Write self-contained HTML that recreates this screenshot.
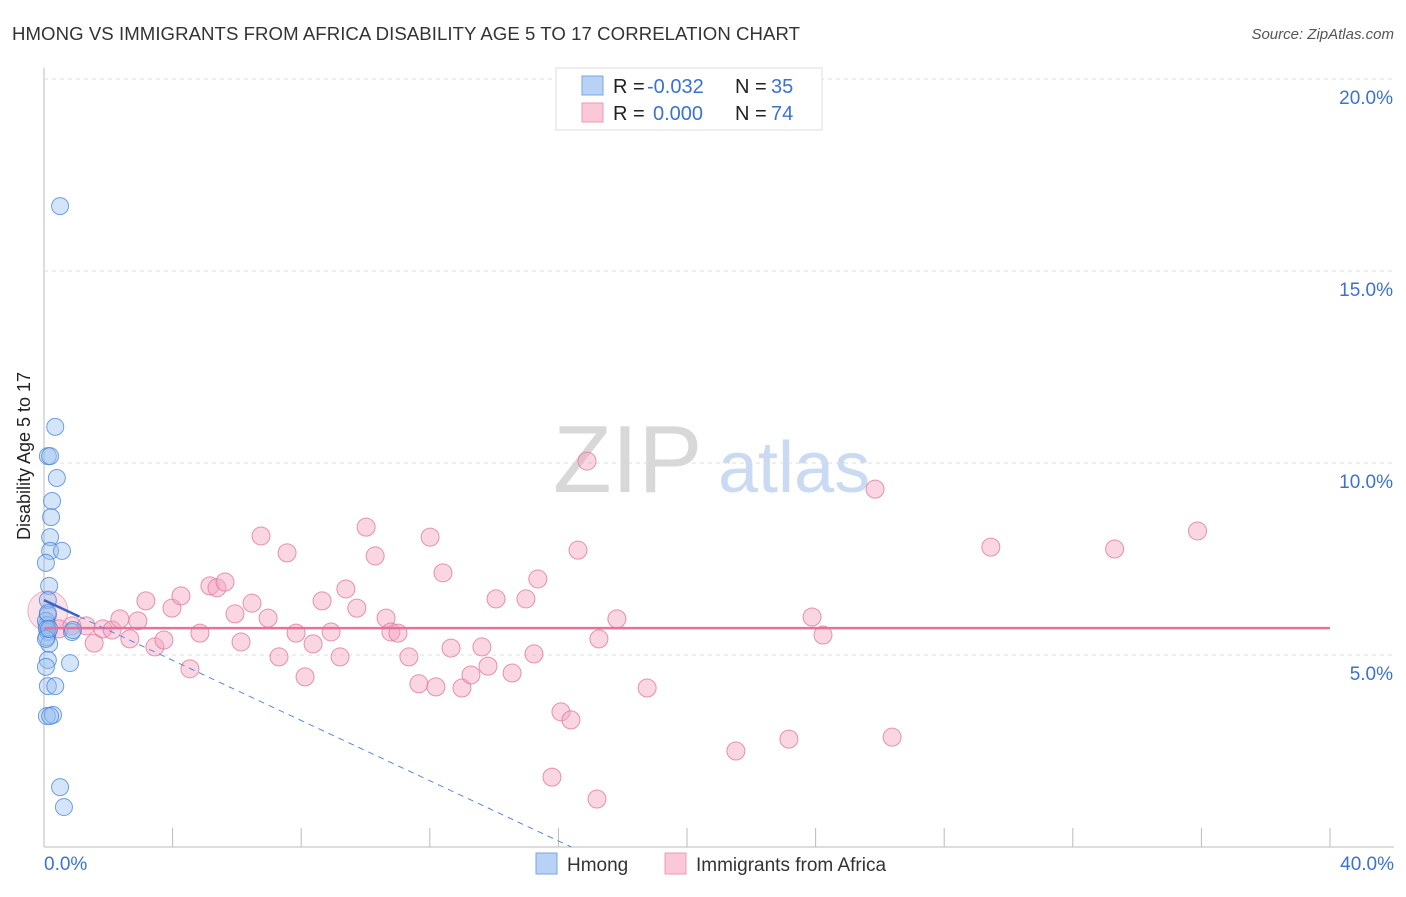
<!DOCTYPE html>
<html><head><meta charset="utf-8"><style>
body{margin:0;background:#fff;font-family:"Liberation Sans",sans-serif;}
svg text{font-family:"Liberation Sans",sans-serif;}
</style></head><body>
<svg id="c" width="1406" height="892">
<text x="12" y="40" font-size="18.6" fill="#333" textLength="788">HMONG VS IMMIGRANTS FROM AFRICA DISABILITY AGE 5 TO 17 CORRELATION CHART</text>
<text x="1394" y="39" font-size="15" fill="#555" font-style="italic" text-anchor="end">Source: ZipAtlas.com</text>
<text x="30" y="456" font-size="18" fill="#222" text-anchor="middle" transform="rotate(-90 30 456)">Disability Age 5 to 17</text>
<text x="553" y="492" font-size="96" fill="#d8d8d8" font-family="Liberation Serif">ZIP</text>
<text x="718" y="492" font-size="72" fill="#c9daf2">atlas</text>
<g id="grid"></g><g id="pts"></g><g id="lines"></g>
<g>
<rect x="556" y="68" width="266" height="62" fill="#fff" stroke="#ddd"/>
<rect x="582" y="76" width="21" height="19" fill="#b8d2f5" stroke="#7aa6e0"/>
<rect x="582" y="103" width="21" height="19" fill="#fac8d6" stroke="#ec9ab4"/>
<text x="613" y="93" font-size="20" fill="#222">R =</text>
<text x="647" y="93" font-size="20" fill="#3b72d0">-0.032</text>
<text x="735" y="93" font-size="20" fill="#222">N =</text>
<text x="771" y="93" font-size="20" fill="#3b72d0">35</text>
<text x="613" y="120" font-size="20" fill="#222">R =</text>
<text x="653" y="120" font-size="20" fill="#3b72d0">0.000</text>
<text x="735" y="120" font-size="20" fill="#222">N =</text>
<text x="771" y="120" font-size="20" fill="#3b72d0">74</text>
</g>
<g>
<rect x="536" y="853" width="21" height="21" fill="#b8d2f5" stroke="#7aa6e0"/>
<text x="567" y="871" font-size="19" fill="#333">Hmong</text>
<rect x="665" y="853" width="21" height="21" fill="#fac8d6" stroke="#ec9ab4"/>
<text x="696" y="871" font-size="19" fill="#333">Immigrants from Africa</text>
</g>
</svg>
<script>
const yTicks=[5,10,15,20];
const xTickLabels=["0.0%","40.0%"];
const hmongX=[0.5,0.35,0.12,0.19,0.4,0.25,0.22,0.19,0.19,0.56,0.06,0.16,0.12,0.12,0.09,0.12,0.09,0.16,0.12,0.06,0.81,0.12,0.35,0.09,0.28,0.19,0.5,0.62,0.87,0.9,0.06,0.09,0.12,0.06,0.16];
const hmongY=[16.69,10.94,10.18,10.18,9.61,9.01,8.59,8.07,7.71,7.71,7.40,6.80,6.43,6.04,5.78,5.60,5.47,5.29,4.87,4.69,4.79,4.19,4.19,3.41,3.44,3.41,1.56,1.04,5.60,5.65,5.89,5.68,6.09,5.42,5.68];
const afrX=[0.12,0.47,0.87,1.31,1.56,1.83,2.12,2.36,2.67,2.92,3.17,3.45,3.73,3.98,4.26,4.54,4.85,5.16,5.38,5.63,5.94,6.13,6.47,6.75,6.97,7.31,7.56,7.84,8.12,8.37,8.65,8.93,9.21,9.39,9.73,10.02,10.3,10.64,10.79,11.01,11.35,11.66,12.01,12.19,12.41,12.66,13.0,13.28,13.62,13.81,14.06,14.56,14.99,15.24,15.36,15.8,16.08,16.39,16.61,16.89,17.2,17.26,17.82,18.76,21.52,23.17,23.89,24.23,25.85,26.38,29.45,33.3,35.88];
const afrY=[6.15,5.68,5.76,5.76,5.31,5.68,5.65,5.94,5.42,5.89,6.41,5.21,5.39,6.22,6.54,4.64,5.57,6.80,6.75,6.90,6.07,5.34,6.35,8.10,5.96,4.95,7.66,5.57,4.43,5.29,6.41,5.60,4.95,6.72,6.22,8.33,7.58,5.96,5.60,5.57,4.95,4.25,8.07,4.17,7.14,5.18,4.14,4.48,5.21,4.71,6.46,4.53,6.46,5.03,6.98,1.82,3.52,3.31,7.73,10.05,1.25,5.42,5.94,4.14,2.50,2.81,5.99,5.52,9.32,2.86,7.81,7.76,8.23];
const hmongLine=[6.43,-0.392];
const afrLine=[5.7,0];
const ns="http://www.w3.org/2000/svg";
const X=v=>44+v*32.15, Y=v=>847-v*38.4;
function mk(t,a,p){const e=document.createElementNS(ns,t);for(const k in a)e.setAttribute(k,a[k]);p.appendChild(e);return e;}
const grid=document.getElementById('grid');
mk('line',{x1:44,y1:68,x2:44,y2:847,stroke:'#bbb'},grid);
mk('line',{x1:44,y1:847,x2:1394,y2:847,stroke:'#bbb'},grid);
yTicks.forEach(t=>{const g=mk('line',{x1:44,y1:Y(t),x2:1394,y2:Y(t),stroke:'#ddd','stroke-dasharray':'4,4'},grid);


const tx=mk('text',{x:1393,y:Y(t)+25,'font-size':19,fill:'#3b72d0','text-anchor':'end'},grid);tx.textContent=t.toFixed(1)+'%';

});
for(let i=1;i<=10;i++){const l=mk('line',{x1:X(i*4),y1:828,x2:X(i*4),y2:847,stroke:'#bbb'},grid);

}
const t0=mk('text',{x:44,y:870,'font-size':19,fill:'#3b72d0'},grid);t0.textContent=xTickLabels[0];


const t1=mk('text',{x:1394,y:870,'font-size':19,fill:'#3b72d0','text-anchor':'end'},grid);t1.textContent=xTickLabels[1];


const pts=document.getElementById('pts');
const big=mk('circle',{cx:X(afrX[0]),cy:Y(afrY[0]),r:20,fill:'rgba(244,170,195,0.35)',stroke:'rgba(229,130,165,0.6)'},pts);


afrX.forEach((x,i)=>{if(i===0)return;const c=mk('circle',{cx:X(x),cy:Y(afrY[i]),r:9,fill:'rgba(244,165,192,0.45)',stroke:'rgba(226,120,158,0.8)'},pts);

});
hmongX.forEach((x,i)=>{const c=mk('circle',{cx:X(x),cy:Y(hmongY[i]),r:8.5,fill:'rgba(150,190,240,0.4)',stroke:'rgba(70,130,215,0.75)'},pts);

});
const lines=document.getElementById('lines');
const a=mk('line',{x1:X(0),y1:Y(afrLine[0]),x2:X(40),y2:Y(afrLine[0]+afrLine[1]*40),stroke:'#e8719a','stroke-width':2.5},lines);


const h1=mk('line',{x1:X(0),y1:Y(hmongLine[0]),x2:X(1.1),y2:Y(hmongLine[0]+hmongLine[1]*1.1),stroke:'#3b62c8','stroke-width':2.5},lines);


const xe=-hmongLine[0]/hmongLine[1];
const h2=mk('line',{x1:X(1.1),y1:Y(hmongLine[0]+hmongLine[1]*1.1),x2:X(xe),y2:Y(0),stroke:'#5b86d8','stroke-width':1,'stroke-dasharray':'6,5'},lines);


</script>
</body></html>
